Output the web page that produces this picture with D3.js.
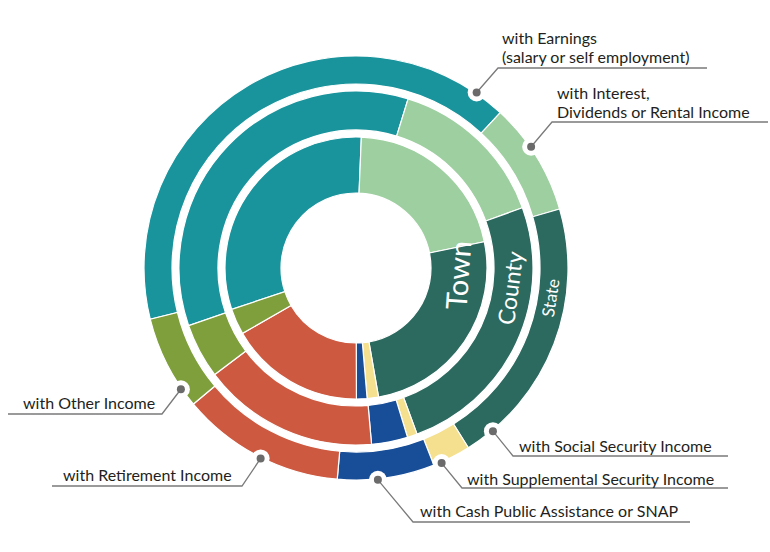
<!DOCTYPE html>
<html>
<head>
<meta charset="utf-8">
<script src="https://cdn.jsdelivr.net/npm/d3@7"></script>
<style>
  body { margin: 0; background: #fff; }
  text { font-family: Lato, "Open Sans", sans-serif; }
</style>
</head>
<body>
<svg width="770" height="552"></svg>
<script>
const categories = ['Earnings', 'Interest, Dividends or Rental', 'Social Security',
  'Supplemental Security', 'Cash Public Assistance or SNAP', 'Retirement', 'Other'];
const ringNames = ['Town', 'County', 'State'];
const townValues = [30.7, 21.1, 25.4, 1.4, 1.3, 16.7, 3.2];
const countyValues = [35.0, 14.7, 24.9, 0.9, 3.3, 16.1, 5.0];
const stateValues = [40.8, 8.6, 20.6, 2.9, 7.4, 12.5, 7.2];
const labelLines = [
  ['with Earnings', '(salary or self employment)'],
  ['with Interest,', 'Dividends or Rental Income'],
  ['with Social Security Income'],
  ['with Supplemental Security Income'],
  ['with Cash Public Assistance or SNAP'],
  ['with Retirement Income'],
  ['with Other Income']
];

const colors = ['#1a949c', '#9dcfa0', '#2c6a60', '#f4e08e', '#184e98', '#cd5940', '#7e9f3b'];

const cx = 356, cy = 268;
const deg = Math.PI / 180;

// ring geometry
const rings = [
  { values: townValues, inner: 75, outer: 131, start: -108.4, font: 29, labelR: 103, labelA: 94 },
  { values: countyValues, inner: 138, outer: 177, start: -109, font: 23, labelR: 156, labelA: 97.4 },
  { values: stateValues, inner: 184, outer: 212, start: -104, font: 17, labelR: 197, labelA: 98.7 }
];

// callouts: angle of the dot on the outer ring, elbow, end of underline, text position
const callouts = [
  { angle: 34.5, elbow: [498, 68], lineEnd: 707, tx: 502, base: 43.5 },
  { angle: 55.3, elbow: [552, 122], lineEnd: 768, tx: 557, base: 98.5 },
  { angle: 140, elbow: [513, 456], lineEnd: 728, tx: 519, base: 452 },
  { angle: 156.3, elbow: [462, 488], lineEnd: 728, tx: 467, base: 485 },
  { angle: 174.1, elbow: [413, 522], lineEnd: 690, tx: 420, base: 517 },
  { angle: 206.6, elbow: [242, 486], lineEnd: 52, tx: 63, base: 481 },
  { angle: 235.3, elbow: [162, 414], lineEnd: 8, tx: 23, base: 409 }
];

const svg = d3.select('svg');
const g = svg.append('g').attr('transform', `translate(${cx},${cy})`);

rings.forEach((ring, i) => {
  const pie = d3.pie().sort(null)
    .startAngle(ring.start * deg)
    .endAngle((ring.start + 360) * deg);
  const arc = d3.arc().innerRadius(ring.inner).outerRadius(ring.outer);

  g.append('g').selectAll('path')
    .data(pie(ring.values))
    .enter().append('path')
    .attr('d', arc)
    .attr('fill', (d, j) => colors[j])
    .attr('stroke', '#fff')
    .attr('stroke-width', 1.2);

  // ring name, set along the ring inside the Social Security slice
  const p = d3.pointRadial(ring.labelA * deg, ring.labelR);
  g.append('text')
    .attr('transform', `translate(${p[0]},${p[1]}) rotate(${ring.labelA - 180})`)
    .attr('text-anchor', 'middle')
    .attr('dy', '0.35em')
    .attr('fill', '#fff')
    .attr('font-size', ring.font)
    .text(ringNames[i]);
});

// callout notches, dots, leaders and labels
const dotR = 213;
callouts.forEach((c, i) => {
  const p = d3.pointRadial(c.angle * deg, dotR);
  const px = cx + p[0], py = cy + p[1];
  svg.append('circle').attr('cx', px).attr('cy', py).attr('r', 9).attr('fill', '#fff');
  svg.append('polyline')
    .attr('points', `${px},${py} ${c.elbow[0]},${c.elbow[1]} ${c.lineEnd},${c.elbow[1]}`)
    .attr('fill', 'none')
    .attr('stroke', '#7a7a7a')
    .attr('stroke-width', 1.3);
  svg.append('circle').attr('cx', px).attr('cy', py).attr('r', 4).attr('fill', '#6b6b6b');

  const t = svg.append('text')
    .attr('x', c.tx)
    .attr('y', c.base)
    .attr('font-size', 16)
    .attr('fill', '#231f20');
  labelLines[i].forEach((line, k) => {
    t.append('tspan')
      .attr('x', c.tx)
      .attr('dy', k === 0 ? 0 : 19.5)
      .text(line);
  });
});
</script>
</body>
</html>
